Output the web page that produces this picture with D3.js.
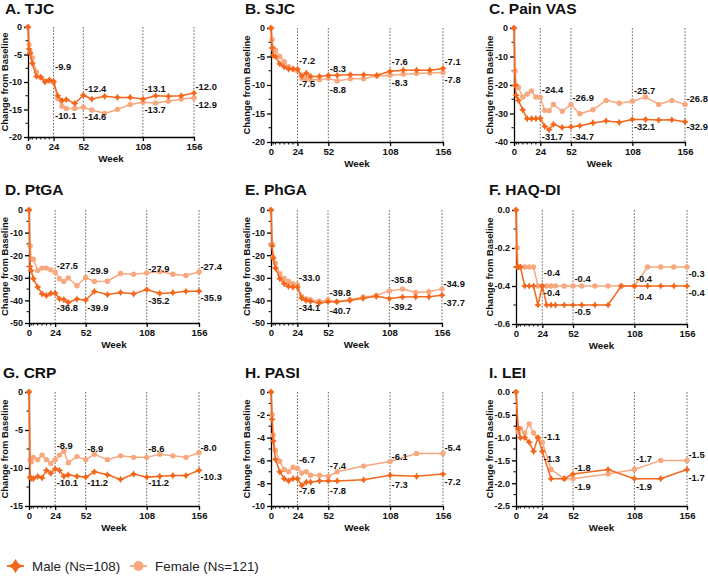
<!DOCTYPE html>
<html><head><meta charset="utf-8">
<script src="https://cdn.jsdelivr.net/npm/d3@7"></script>
<style>body{margin:0;background:#fff} svg{display:block} text{font-family:Arial,"Liberation Sans",sans-serif}</style>
</head><body><svg id="c" width="708" height="576"></svg>
<script>
// ---------- DATA ----------
const weeks = [0,1,2,4,8,12,16,20,24,28,32,36,44,52,60,72,84,96,108,120,132,144,156];
const pasiWeeks = [0,1,2,4,8,12,16,20,24,28,32,36,44,52,60,84,108,132,156];
const leiWeeks = [0,2,4,8,12,16,20,24,32,44,52,84,108,132,156];
const weekTicks = [0,24,52,108,156];
const minorWeekTicks = [2,4,8,12,16,20];
const refWeeks = [24,52,108,156];

const tjcMale   = [0,-4.0,-4.8,-6.6,-9.0,-9.1,-10.0,-9.6,-9.9,-12.5,-13.4,-13.2,-13.9,-12.4,-13.1,-12.6,-12.8,-12.8,-13.1,-12.5,-12.6,-12.5,-12.0];
const tjcFemale = [0,-3.2,-4.6,-5.6,-8.2,-9.2,-9.8,-9.8,-10.1,-13.0,-14.4,-14.8,-14.8,-14.6,-15.1,-15.7,-15.0,-14.1,-13.7,-13.8,-13.5,-13.1,-12.9];
const sjcMale   = [0,-3.5,-4.8,-5.0,-6.3,-6.8,-7.2,-7.2,-7.2,-8.4,-7.9,-8.5,-8.5,-8.3,-8.3,-8.2,-8.2,-8.3,-7.6,-7.4,-7.4,-7.4,-7.1];
const sjcFemale = [0,-2.0,-3.6,-3.9,-5.0,-5.9,-6.8,-7.2,-7.5,-8.8,-8.9,-9.1,-9.1,-8.8,-9.3,-8.9,-8.9,-8.4,-8.3,-8.1,-8.0,-7.9,-7.8];
const vasMale   = [0,-20.1,-23.6,-25.4,-28.7,-31.8,-31.8,-31.8,-31.7,-34.5,-35.7,-33.8,-34.9,-34.7,-34.3,-33.3,-32.6,-33.1,-32.1,-32.1,-32.3,-32.2,-32.9];
const vasFemale = [0,-15.1,-20.1,-20.9,-24.2,-23.2,-22.1,-24.2,-24.4,-28.9,-29.0,-26.8,-29.2,-26.9,-30.1,-28.7,-25.4,-26.4,-25.7,-24.2,-26.8,-25.4,-26.8];
const ptgaMale   = [0,-25.0,-26.8,-30.4,-34.1,-37.1,-37.9,-36.9,-36.8,-39.3,-39.7,-40.9,-39.4,-39.9,-36.0,-37.4,-36.5,-37.1,-35.2,-36.9,-36.6,-36.0,-35.9];
const ptgaFemale = [0,-15.9,-21.8,-21.8,-26.8,-25.7,-25.7,-26.5,-27.5,-30.4,-31.6,-30.1,-33.5,-29.9,-31.6,-31.5,-28.1,-28.4,-27.9,-27.2,-28.4,-29.0,-27.4];
const phgaMale   = [0,-15.9,-21.3,-25.7,-30.4,-32.6,-33.8,-34.1,-34.1,-39.0,-40.0,-40.4,-41.2,-40.7,-40.6,-40.0,-39.1,-38.2,-39.2,-38.5,-38.4,-38.4,-37.7];
const phgaFemale = [0,-15.1,-20.9,-23.5,-28.2,-30.3,-31.6,-32.6,-33.0,-38.2,-39.4,-39.7,-40.4,-39.8,-40.6,-39.7,-38.5,-37.8,-35.8,-35.0,-36.5,-36.2,-34.9];
const haqMale   = [0,-0.3,-0.3,-0.3,-0.4,-0.4,-0.4,-0.5,-0.4,-0.5,-0.5,-0.5,-0.5,-0.5,-0.5,-0.5,-0.5,-0.4,-0.4,-0.4,-0.4,-0.4,-0.4];
const haqFemale = [0,-0.2,-0.3,-0.3,-0.3,-0.3,-0.3,-0.4,-0.4,-0.4,-0.4,-0.4,-0.4,-0.4,-0.4,-0.4,-0.4,-0.4,-0.4,-0.3,-0.3,-0.3,-0.3];
const crpMale   = [0,-11.2,-11.4,-11.4,-11.1,-11.3,-10.3,-10.7,-10.1,-10.3,-11.1,-10.9,-11.1,-11.2,-10.5,-10.9,-11.5,-10.8,-11.2,-11.1,-11.0,-11.0,-10.3];
const crpFemale = [0,-8.9,-9.2,-8.6,-8.9,-8.3,-8.9,-9.4,-8.9,-8.3,-7.8,-9.3,-8.5,-8.9,-8.2,-8.9,-8.4,-8.6,-8.6,-8.2,-8.4,-8.6,-8.0];
const pasiMale   = [0,-2.4,-4.3,-5.9,-7.0,-7.6,-7.8,-7.6,-7.6,-8.2,-7.9,-7.9,-7.8,-7.8,-7.8,-7.7,-7.3,-7.4,-7.2];
const pasiFemale = [0,-2.0,-3.8,-5.1,-6.1,-6.8,-7.0,-6.6,-6.7,-7.1,-7.0,-7.3,-7.3,-7.4,-7.0,-6.5,-6.1,-5.4,-5.4];
const leiMale   = [0,-0.8,-1.0,-1.0,-1.1,-1.3,-1.0,-1.3,-1.9,-1.9,-1.8,-1.7,-1.9,-1.9,-1.7];
const leiFemale = [0,-0.88,-0.8,-0.9,-0.7,-0.9,-1.0,-1.1,-1.7,-1.9,-1.9,-1.8,-1.7,-1.5,-1.5];

// annotation labels: [week, text, value-position]
const tjcLabels  = [[24,"-9.9",-7.15],[24,"-10.1",-16.1],[52,"-12.4",-11.3],[52,"-14.6",-16.4],[108,"-13.1",-11.3],[108,"-13.7",-15.0],[156,"-12.0",-10.8],[156,"-12.9",-14.1]];
const sjcLabels  = [[24,"-7.2",-5.8],[24,"-7.5",-9.85],[52,"-8.3",-7.1],[52,"-8.8",-10.8],[108,"-7.6",-5.9],[108,"-8.3",-9.6],[156,"-7.1",-5.9],[156,"-7.8",-9.15]];
const vasLabels  = [[24,"-24.4",-21.6],[24,"-31.7",-38.2],[52,"-26.9",-24.6],[52,"-34.7",-38.2],[108,"-25.7",-22.1],[108,"-32.1",-34.5],[156,"-26.8",-24.8],[156,"-32.9",-34.7]];
const ptgaLabels = [[24,"-27.5",-24.7],[24,"-36.8",-43.4],[52,"-29.9",-26.8],[52,"-39.9",-43.4],[108,"-27.9",-25.9],[108,"-35.2",-40.3],[156,"-27.4",-25.0],[156,"-35.9",-39.0]];
const phgaLabels = [[24,"-33.0",-29.9],[24,"-34.1",-43.4],[52,"-39.8",-36.8],[52,"-40.7",-44.4],[108,"-35.8",-30.9],[108,"-39.2",-42.6],[156,"-34.9",-32.6],[156,"-37.7",-40.9]];
const haqLabels  = [[24,"-0.4",-0.332],[24,"-0.4",-0.437],[52,"-0.4",-0.364],[52,"-0.5",-0.534],[108,"-0.4",-0.364],[108,"-0.4",-0.455],[156,"-0.3",-0.336],[156,"-0.4",-0.434]];
const crpLabels  = [[24,"-8.9",-7.1],[24,"-10.1",-12.0],[52,"-8.9",-7.4],[52,"-11.2",-12.0],[108,"-8.6",-7.4],[108,"-11.2",-12.0],[156,"-8.0",-7.3],[156,"-10.3",-11.2]];
const pasiLabels = [[24,"-6.7",-5.9],[24,"-7.6",-8.7],[52,"-7.4",-6.5],[52,"-7.8",-8.7],[108,"-6.1",-5.7],[108,"-7.3",-8.15],[156,"-5.4",-4.9],[156,"-7.2",-7.85]];
const leiLabels  = [[24,"-1.1",-0.975],[24,"-1.3",-1.47],[52,"-1.8",-1.65],[52,"-1.9",-2.07],[108,"-1.7",-1.47],[108,"-1.9",-2.07],[156,"-1.5",-1.38],[156,"-1.7",-1.87]];

const titles = ["A. TJC","B. SJC","C. Pain VAS","D. PtGA","E. PhGA","F. HAQ-DI","G. CRP","H. PASI","I. LEI"];
const legendLabels = ["Male (Ns=108)","Female (Ns=121)"];

// ---------- LAYOUT ----------
const MALE = "#F4661B", FEMALE = "#F8A87E";
const panels = [
 {f:[28,194,27,137], dom:[-20,0], yt:[0,-5,-10,-15,-20], dec:0, w:weeks, wM:weeks, m:tjcMale, fe:tjcFemale, lab:tjcLabels, tx:5, ty:14, ylx:8},
 {f:[271,443,28,142], dom:[-20,0], yt:[0,-5,-10,-15,-20], dec:0, w:weeks, wM:weeks, m:sjcMale, fe:sjcFemale, lab:sjcLabels, tx:245, ty:14, ylx:250},
 {f:[514,685,28,142], dom:[-40,0], yt:[0,-10,-20,-30,-40], dec:0, w:weeks, wM:weeks, m:vasMale, fe:vasFemale, lab:vasLabels, tx:489, ty:14, ylx:493},
 {f:[29,199,210,323], dom:[-50,0], yt:[0,-10,-20,-30,-40,-50], dec:0, w:weeks, wM:weeks, m:ptgaMale, fe:ptgaFemale, lab:ptgaLabels, tx:5, ty:195, ylx:8},
 {f:[271,442,210,323], dom:[-50,0], yt:[0,-10,-20,-30,-40,-50], dec:0, w:weeks, wM:weeks, m:phgaMale, fe:phgaFemale, lab:phgaLabels, tx:245, ty:195, ylx:250},
 {f:[516,687,210,324], dom:[-0.6,0], yt:[0,-0.2,-0.4,-0.6], dec:1, w:weeks, wM:weeks, m:haqMale, fe:haqFemale, lab:haqLabels, tx:489, ty:195, ylx:493},
 {f:[29,199,392,506], dom:[-15,0], yt:[0,-5,-10,-15], dec:0, w:weeks, wM:weeks, m:crpMale, fe:crpFemale, lab:crpLabels, tx:3, ty:378, ylx:8},
 {f:[271,443,392,506], dom:[-10,0], yt:[0,-2,-4,-6,-8,-10], dec:0, w:pasiWeeks, wM:pasiWeeks, m:pasiMale, fe:pasiFemale, lab:pasiLabels, tx:245, ty:378, ylx:250},
 {f:[516,687,392,506], dom:[-2.5,0], yt:[0,-0.5,-1,-1.5,-2,-2.5], dec:1, w:leiWeeks, wM:leiWeeks, m:leiMale, fe:leiFemale, lab:leiLabels, tx:489, ty:378, ylx:493}
];

const svg = d3.select("#c");

function starPath(r){
  const k = r*0.38;
  return `M0,${-r}L${k},${-k}L${r},0L${k},${k}L0,${r}L${-k},${k}L${-r},0L${-k},${-k}Z`;
}

panels.forEach((p,i)=>{
  const [x0,x1,y0,y1] = p.f;
  const x = d3.scaleLinear().domain([0,156]).range([x0,x1]);
  const y = d3.scaleLinear().domain(p.dom).range([y1,y0]);
  const g = svg.append("g");

  g.append("text").attr("x",p.tx).attr("y",p.ty).attr("font-size",15.5).attr("font-weight","bold").attr("fill","#111").text(titles[i]);

  g.selectAll("line.ref").data(refWeeks).join("line")
    .attr("x1",d=>x(d)).attr("x2",d=>x(d)).attr("y1",y0).attr("y2",y1)
    .attr("stroke","#555").attr("stroke-width",0.9).attr("stroke-dasharray","1.6,1.6");

  const fmt = d => d===0 ? (p.dec? "0.0":"0") : d.toFixed(p.dec);
  const ya = g.append("g").attr("transform",`translate(${x0},0)`)
    .call(d3.axisLeft(y).tickValues(p.yt).tickFormat(fmt).tickSize(4).tickSizeOuter(0).tickPadding(2));
  const step = p.yt[0]-p.yt[1];
  const minorY = p.yt.slice(0,-1).map(v=>v-step/2);
  g.selectAll("line.my").data(minorY).join("line")
    .attr("x1",x0-2.5).attr("x2",x0).attr("y1",d=>y(d)).attr("y2",d=>y(d)).attr("stroke","#000").attr("stroke-width",1);

  const xa = g.append("g").attr("transform",`translate(0,${y1})`)
    .call(d3.axisBottom(x).tickValues(weekTicks).tickSize(4).tickSizeOuter(0).tickPadding(2));
  g.selectAll("line.mx").data(minorWeekTicks).join("line")
    .attr("x1",d=>x(d)).attr("x2",d=>x(d)).attr("y1",y1).attr("y2",y1+2.5).attr("stroke","#000").attr("stroke-width",1);

  [ya,xa].forEach(a=>{
    a.selectAll("path,line").attr("stroke","#000").attr("stroke-width",1.3);
    a.selectAll("text").attr("font-size",9).attr("font-weight","bold").attr("fill","#111").attr("font-family","Arial, 'Liberation Sans', sans-serif");
  });
  xa.selectAll("text").attr("font-size",9.6);

  g.append("text").attr("transform",`translate(${p.ylx},${(y0+y1)/2}) rotate(-90)`)
    .attr("text-anchor","middle").attr("font-size",9.4).attr("font-weight","bold").attr("fill","#111").text("Change from Baseline");
  g.append("text").attr("x",(x0+x1)/2).attr("y",y1+25).attr("text-anchor","middle")
    .attr("font-size",9.8).attr("font-weight","bold").attr("fill","#111").text("Week");

  const line = d3.line().x(d=>x(d[0])).y(d=>y(d[1]));
  const fem = p.w.map((w,j)=>[w,p.fe[j]]);
  const mal = p.wM.map((w,j)=>[w,p.m[j]]);
  g.append("path").datum(fem).attr("d",line).attr("fill","none").attr("stroke",FEMALE).attr("stroke-width",1.5);
  g.selectAll("circle.f").data(fem).join("circle").attr("cx",d=>x(d[0])).attr("cy",d=>y(d[1])).attr("r",2.7).attr("fill",FEMALE);
  g.append("path").datum(mal).attr("d",line).attr("fill","none").attr("stroke",MALE).attr("stroke-width",1.5);
  g.selectAll("path.m").data(mal).join("path").attr("d",starPath(3.6))
    .attr("transform",d=>`translate(${x(d[0])},${y(d[1])})`).attr("fill",MALE);

  g.selectAll("text.v").data(p.lab).join("text")
    .attr("x",d=>x(d[0])+1.5).attr("y",d=>y(d[2])).attr("dy","0.35em")
    .attr("font-size",9.4).attr("font-weight","bold").attr("fill","#111").text(d=>d[1]);
});

// legend
const lg = svg.append("g");
const lx = [7,130], tx = [32,155], ly = 566;
lg.selectAll("line.l").data([0,1]).join("line")
  .attr("x1",d=>lx[d]).attr("x2",d=>lx[d]+17).attr("y1",ly).attr("y2",ly)
  .attr("stroke",d=>d?FEMALE:MALE).attr("stroke-width",1.8);
lg.append("path").attr("d",starPath(7)).attr("transform",`translate(${lx[0]+8.5},${ly})`).attr("fill",MALE);
lg.append("circle").attr("cx",lx[1]+8.5).attr("cy",ly).attr("r",5).attr("fill",FEMALE);
lg.selectAll("text").data([0,1]).join("text")
  .attr("x",d=>tx[d]).attr("y",ly).attr("dy","0.36em").attr("font-size",13.4).attr("fill","#222").text(d=>legendLabels[d]);
</script></body></html>
